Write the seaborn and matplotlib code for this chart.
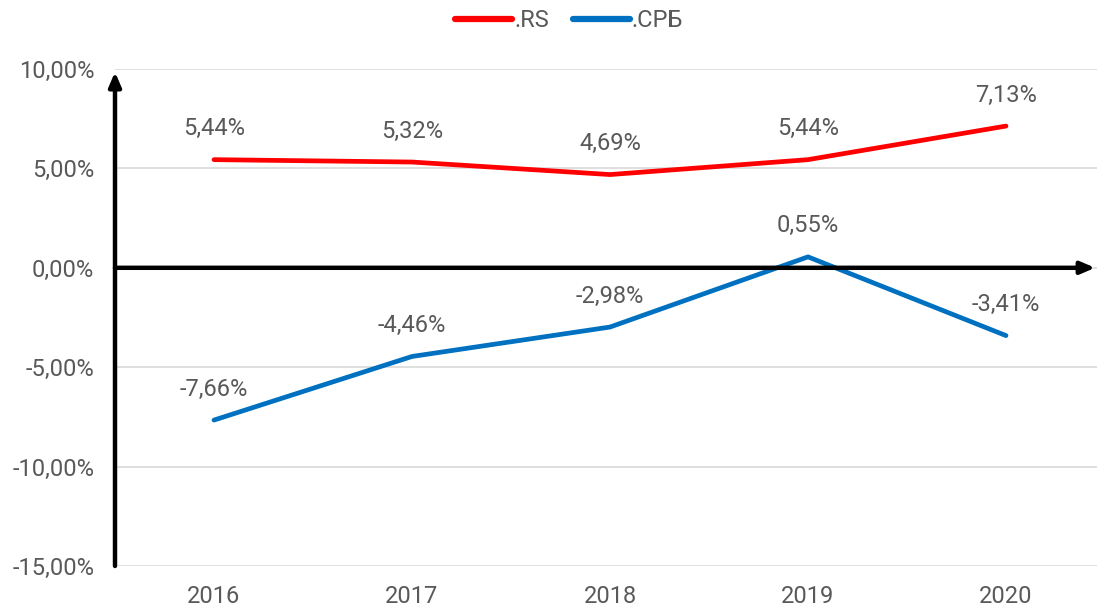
import matplotlib
matplotlib.use("Agg")
import matplotlib.pyplot as plt
import seaborn as sns
import pandas as pd
from matplotlib.ticker import FuncFormatter
from matplotlib.lines import Line2D

years = ["2016", "2017", "2018", "2019", "2020"]
rs_values = [5.44, 5.32, 4.69, 5.44, 7.13]
srb_values = [-7.66, -4.46, -2.98, 0.55, -3.41]
series_names = [".RS", ".СРБ"]
yticks = [-15, -10, -5, 0, 5, 10]

df = pd.DataFrame({
    "year": years * 2,
    "x": list(range(len(years))) * 2,
    "value": rs_values + srb_values,
    "series": [series_names[0]] * len(years) + [series_names[1]] * len(years),
})

sns.set_theme(style="white")
plt.rcParams['font.family'] = ['Roboto', 'DejaVu Sans']
text_color = "#595959"
fs = 17

fig = plt.figure(figsize=(10.97, 6.07), dpi=100)
ax = fig.add_axes([115/1097, 41/607, 990/1097, 497/607])

palette = {series_names[0]: "#FF0000", series_names[1]: "#0070C0"}
sns.lineplot(data=df, x="x", y="value", hue="series", palette=palette,
             linewidth=3.4, ax=ax, legend=False, zorder=3)

for s, vals in zip(series_names, [rs_values, srb_values]):
    for i, v in enumerate(vals):
        ax.annotate(f"{v:.2f}%".replace(".", ","), (i, v), xytext=(0, 14),
                    textcoords="offset points", ha="center", va="bottom",
                    fontsize=fs, color=text_color, zorder=4)

ax.set_xlim(-0.5, 4.5)
ax.set_ylim(-15, 10)
ax.set_yticks(yticks)
ax.yaxis.set_major_formatter(FuncFormatter(lambda v, p: f"{v:.2f}%".replace(".", ",")))
ax.set_xticks(range(len(years)))
ax.set_xticklabels(years)
ax.tick_params(axis="both", labelsize=fs, colors=text_color, length=0)
ax.tick_params(axis="y", pad=15)
ax.tick_params(axis="x", pad=14)
ax.set_xlabel("")
ax.set_ylabel("")
for sp in ax.spines.values():
    sp.set_visible(False)
for t in yticks:
    ax.axhline(t, color="#D9D9D9", linewidth=1.2, zorder=1)

# Axes with arrows
ax.annotate("", xy=(0, 9.85), xytext=(0, -15), xycoords=("axes fraction", "data"),
            textcoords=("axes fraction", "data"),
            arrowprops=dict(arrowstyle="-|>,head_length=0.7,head_width=0.3", color="black", lw=3.2,
                            shrinkA=0, shrinkB=0), annotation_clip=False, zorder=5)
ax.annotate("", xy=(4.45, 0), xytext=(-0.5, 0),
            arrowprops=dict(arrowstyle="-|>,head_length=0.7,head_width=0.3", color="black", lw=3.2,
                            shrinkA=0, shrinkB=0), annotation_clip=False, zorder=5)

handles = [Line2D([0], [0], color=palette[s], lw=4.5, solid_capstyle="round") for s in series_names]
fig.legend(handles, series_names, loc="upper center", bbox_to_anchor=(0.519, 1.02), ncol=2,
           frameon=False, fontsize=fs, labelcolor=text_color, handlelength=2.4,
           handletextpad=0.1, columnspacing=1.0)

fig.savefig("out.png", dpi=100)
